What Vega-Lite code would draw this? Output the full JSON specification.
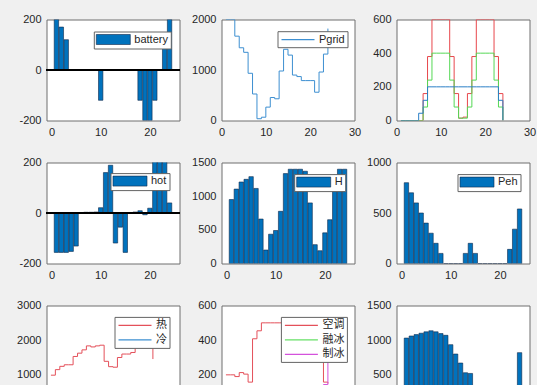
{
"$schema":"https://vega.github.io/schema/vega-lite/v6.json",
"background":"#f0f0f0",
"padding":{"left":15.5,"top":12.5,"right":0,"bottom":0},
"columns":3,
"spacing":{"row":42,"column":42},
"bounds":"flush",
"resolve":{"scale":{"color":"independent"},"legend":{"color":"independent"}},
"datasets":{
"battery":[{"hour":1,"value":200,"series":"battery"},{"hour":2,"value":170,"series":"battery"},{"hour":3,"value":120,"series":"battery"},{"hour":4,"value":0,"series":"battery"},{"hour":5,"value":0,"series":"battery"},{"hour":6,"value":0,"series":"battery"},{"hour":7,"value":0,"series":"battery"},{"hour":8,"value":0,"series":"battery"},{"hour":9,"value":0,"series":"battery"},{"hour":10,"value":-120,"series":"battery"},{"hour":11,"value":0,"series":"battery"},{"hour":12,"value":0,"series":"battery"},{"hour":13,"value":0,"series":"battery"},{"hour":14,"value":0,"series":"battery"},{"hour":15,"value":0,"series":"battery"},{"hour":16,"value":0,"series":"battery"},{"hour":17,"value":0,"series":"battery"},{"hour":18,"value":-120,"series":"battery"},{"hour":19,"value":-200,"series":"battery"},{"hour":20,"value":-200,"series":"battery"},{"hour":21,"value":-120,"series":"battery"},{"hour":22,"value":0,"series":"battery"},{"hour":23,"value":120,"series":"battery"},{"hour":24,"value":200,"series":"battery"}],
"pgrid":[{"hour":1,"value":2000,"series":"Pgrid"},{"hour":2,"value":2000,"series":"Pgrid"},{"hour":3,"value":1670,"series":"Pgrid"},{"hour":4,"value":1440,"series":"Pgrid"},{"hour":5,"value":1350,"series":"Pgrid"},{"hour":6,"value":935,"series":"Pgrid"},{"hour":7,"value":525,"series":"Pgrid"},{"hour":8,"value":35,"series":"Pgrid"},{"hour":9,"value":65,"series":"Pgrid"},{"hour":10,"value":265,"series":"Pgrid"},{"hour":11,"value":455,"series":"Pgrid"},{"hour":12,"value":430,"series":"Pgrid"},{"hour":13,"value":980,"series":"Pgrid"},{"hour":14,"value":1410,"series":"Pgrid"},{"hour":15,"value":1295,"series":"Pgrid"},{"hour":16,"value":900,"series":"Pgrid"},{"hour":17,"value":870,"series":"Pgrid"},{"hour":18,"value":790,"series":"Pgrid"},{"hour":19,"value":790,"series":"Pgrid"},{"hour":20,"value":790,"series":"Pgrid"},{"hour":21,"value":560,"series":"Pgrid"},{"hour":22,"value":960,"series":"Pgrid"},{"hour":23,"value":1315,"series":"Pgrid"},{"hour":24,"value":1820,"series":"Pgrid"}],
"three":[
{"hour":1,"value":0,"series":"P1"},{"hour":2,"value":0,"series":"P1"},{"hour":3,"value":0,"series":"P1"},{"hour":4,"value":0,"series":"P1"},{"hour":5,"value":0,"series":"P1"},{"hour":6,"value":160,"series":"P1"},{"hour":7,"value":380,"series":"P1"},{"hour":8,"value":600,"series":"P1"},{"hour":9,"value":600,"series":"P1"},{"hour":10,"value":600,"series":"P1"},{"hour":11,"value":600,"series":"P1"},{"hour":12,"value":380,"series":"P1"},{"hour":13,"value":160,"series":"P1"},{"hour":14,"value":14,"series":"P1"},{"hour":15,"value":20,"series":"P1"},{"hour":16,"value":160,"series":"P1"},{"hour":17,"value":380,"series":"P1"},{"hour":18,"value":600,"series":"P1"},{"hour":19,"value":600,"series":"P1"},{"hour":20,"value":600,"series":"P1"},{"hour":21,"value":600,"series":"P1"},{"hour":22,"value":380,"series":"P1"},{"hour":23,"value":160,"series":"P1"},{"hour":24,"value":0,"series":"P1"},
{"hour":1,"value":0,"series":"P2"},{"hour":2,"value":0,"series":"P2"},{"hour":3,"value":0,"series":"P2"},{"hour":4,"value":0,"series":"P2"},{"hour":5,"value":0,"series":"P2"},{"hour":6,"value":80,"series":"P2"},{"hour":7,"value":240,"series":"P2"},{"hour":8,"value":400,"series":"P2"},{"hour":9,"value":400,"series":"P2"},{"hour":10,"value":400,"series":"P2"},{"hour":11,"value":400,"series":"P2"},{"hour":12,"value":240,"series":"P2"},{"hour":13,"value":80,"series":"P2"},{"hour":14,"value":14,"series":"P2"},{"hour":15,"value":14,"series":"P2"},{"hour":16,"value":80,"series":"P2"},{"hour":17,"value":240,"series":"P2"},{"hour":18,"value":400,"series":"P2"},{"hour":19,"value":400,"series":"P2"},{"hour":20,"value":400,"series":"P2"},{"hour":21,"value":400,"series":"P2"},{"hour":22,"value":240,"series":"P2"},{"hour":23,"value":80,"series":"P2"},{"hour":24,"value":0,"series":"P2"},
{"hour":1,"value":0,"series":"P3"},{"hour":2,"value":0,"series":"P3"},{"hour":3,"value":0,"series":"P3"},{"hour":4,"value":0,"series":"P3"},{"hour":5,"value":43,"series":"P3"},{"hour":6,"value":120,"series":"P3"},{"hour":7,"value":200,"series":"P3"},{"hour":8,"value":200,"series":"P3"},{"hour":9,"value":200,"series":"P3"},{"hour":10,"value":200,"series":"P3"},{"hour":11,"value":200,"series":"P3"},{"hour":12,"value":200,"series":"P3"},{"hour":13,"value":200,"series":"P3"},{"hour":14,"value":200,"series":"P3"},{"hour":15,"value":200,"series":"P3"},{"hour":16,"value":200,"series":"P3"},{"hour":17,"value":200,"series":"P3"},{"hour":18,"value":200,"series":"P3"},{"hour":19,"value":200,"series":"P3"},{"hour":20,"value":200,"series":"P3"},{"hour":21,"value":200,"series":"P3"},{"hour":22,"value":200,"series":"P3"},{"hour":23,"value":120,"series":"P3"},{"hour":24,"value":0,"series":"P3"}],
"hot":[{"hour":1,"value":-156,"series":"hot"},{"hour":2,"value":-156,"series":"hot"},{"hour":3,"value":-156,"series":"hot"},{"hour":4,"value":-152,"series":"hot"},{"hour":5,"value":-131,"series":"hot"},{"hour":6,"value":1,"series":"hot"},{"hour":7,"value":3,"series":"hot"},{"hour":8,"value":3,"series":"hot"},{"hour":9,"value":4,"series":"hot"},{"hour":10,"value":21,"series":"hot"},{"hour":11,"value":160,"series":"hot"},{"hour":12,"value":189,"series":"hot"},{"hour":13,"value":-119,"series":"hot"},{"hour":14,"value":-56,"series":"hot"},{"hour":15,"value":-156,"series":"hot"},{"hour":16,"value":2,"series":"hot"},{"hour":17,"value":4,"series":"hot"},{"hour":18,"value":9,"series":"hot"},{"hour":19,"value":-7,"series":"hot"},{"hour":20,"value":19,"series":"hot"},{"hour":21,"value":260,"series":"hot"},{"hour":22,"value":260,"series":"hot"},{"hour":23,"value":260,"series":"hot"},{"hour":24,"value":40,"series":"hot"}],
"h":[{"hour":1,"value":950,"series":"H"},{"hour":2,"value":1105,"series":"H"},{"hour":3,"value":1210,"series":"H"},{"hour":4,"value":1250,"series":"H"},{"hour":5,"value":1290,"series":"H"},{"hour":6,"value":1115,"series":"H"},{"hour":7,"value":660,"series":"H"},{"hour":8,"value":200,"series":"H"},{"hour":9,"value":435,"series":"H"},{"hour":10,"value":490,"series":"H"},{"hour":11,"value":775,"series":"H"},{"hour":12,"value":1335,"series":"H"},{"hour":13,"value":1400,"series":"H"},{"hour":14,"value":1400,"series":"H"},{"hour":15,"value":1400,"series":"H"},{"hour":16,"value":1370,"series":"H"},{"hour":17,"value":900,"series":"H"},{"hour":18,"value":280,"series":"H"},{"hour":19,"value":190,"series":"H"},{"hour":20,"value":455,"series":"H"},{"hour":21,"value":650,"series":"H"},{"hour":22,"value":1080,"series":"H"},{"hour":23,"value":1400,"series":"H"},{"hour":24,"value":1400,"series":"H"}],
"peh":[{"hour":1,"value":800,"series":"Peh"},{"hour":2,"value":700,"series":"Peh"},{"hour":3,"value":600,"series":"Peh"},{"hour":4,"value":500,"series":"Peh"},{"hour":5,"value":400,"series":"Peh"},{"hour":6,"value":300,"series":"Peh"},{"hour":7,"value":200,"series":"Peh"},{"hour":8,"value":100,"series":"Peh"},{"hour":9,"value":0,"series":"Peh"},{"hour":10,"value":0,"series":"Peh"},{"hour":11,"value":0,"series":"Peh"},{"hour":12,"value":0,"series":"Peh"},{"hour":13,"value":100,"series":"Peh"},{"hour":14,"value":200,"series":"Peh"},{"hour":15,"value":100,"series":"Peh"},{"hour":16,"value":0,"series":"Peh"},{"hour":17,"value":0,"series":"Peh"},{"hour":18,"value":0,"series":"Peh"},{"hour":19,"value":0,"series":"Peh"},{"hour":20,"value":0,"series":"Peh"},{"hour":21,"value":0,"series":"Peh"},{"hour":22,"value":140,"series":"Peh"},{"hour":23,"value":340,"series":"Peh"},{"hour":24,"value":540,"series":"Peh"}],
"hc":[
{"hour":1,"value":990,"series":"热"},{"hour":2,"value":1150,"series":"热"},{"hour":3,"value":1245,"series":"热"},{"hour":4,"value":1290,"series":"热"},{"hour":5,"value":1290,"series":"热"},{"hour":6,"value":1530,"series":"热"},{"hour":7,"value":1625,"series":"热"},{"hour":8,"value":1720,"series":"热"},{"hour":9,"value":1835,"series":"热"},{"hour":10,"value":1805,"series":"热"},{"hour":11,"value":1835,"series":"热"},{"hour":12,"value":1855,"series":"热"},{"hour":13,"value":1390,"series":"热"},{"hour":14,"value":1235,"series":"热"},{"hour":15,"value":1220,"series":"热"},{"hour":16,"value":1500,"series":"热"},{"hour":17,"value":1600,"series":"热"},{"hour":18,"value":1600,"series":"热"},{"hour":19,"value":1645,"series":"热"},{"hour":20,"value":1950,"series":"热"},{"hour":21,"value":2100,"series":"热"},{"hour":22,"value":2200,"series":"热"},{"hour":23,"value":2250,"series":"热"},{"hour":24,"value":1455,"series":"热"},
{"hour":1,"value":500,"series":"冷"},{"hour":2,"value":480,"series":"冷"},{"hour":3,"value":470,"series":"冷"},{"hour":4,"value":460,"series":"冷"},{"hour":5,"value":450,"series":"冷"},{"hour":6,"value":440,"series":"冷"},{"hour":7,"value":430,"series":"冷"},{"hour":8,"value":420,"series":"冷"},{"hour":9,"value":410,"series":"冷"},{"hour":10,"value":400,"series":"冷"},{"hour":11,"value":390,"series":"冷"},{"hour":12,"value":380,"series":"冷"},{"hour":13,"value":370,"series":"冷"},{"hour":14,"value":360,"series":"冷"},{"hour":15,"value":350,"series":"冷"},{"hour":16,"value":340,"series":"冷"},{"hour":17,"value":350,"series":"冷"},{"hour":18,"value":360,"series":"冷"},{"hour":19,"value":380,"series":"冷"},{"hour":20,"value":400,"series":"冷"},{"hour":21,"value":420,"series":"冷"},{"hour":22,"value":440,"series":"冷"},{"hour":23,"value":460,"series":"冷"},{"hour":24,"value":480,"series":"冷"}],
"ice":[
{"hour":1,"value":200,"series":"空调"},{"hour":2,"value":200,"series":"空调"},{"hour":3,"value":190,"series":"空调"},{"hour":4,"value":213,"series":"空调"},{"hour":5,"value":204,"series":"空调"},{"hour":6,"value":158,"series":"空调"},{"hour":7,"value":408,"series":"空调"},{"hour":8,"value":454,"series":"空调"},{"hour":9,"value":500,"series":"空调"},{"hour":10,"value":500,"series":"空调"},{"hour":11,"value":500,"series":"空调"},{"hour":12,"value":500,"series":"空调"},{"hour":13,"value":500,"series":"空调"},{"hour":14,"value":500,"series":"空调"},{"hour":15,"value":500,"series":"空调"},{"hour":16,"value":500,"series":"空调"},{"hour":17,"value":500,"series":"空调"},{"hour":18,"value":500,"series":"空调"},{"hour":19,"value":500,"series":"空调"},{"hour":20,"value":500,"series":"空调"},{"hour":21,"value":500,"series":"空调"},{"hour":22,"value":500,"series":"空调"},{"hour":23,"value":158,"series":"空调"},{"hour":24,"value":150,"series":"空调"},
{"hour":1,"value":0,"series":"融冰"},{"hour":2,"value":0,"series":"融冰"},{"hour":3,"value":0,"series":"融冰"},{"hour":4,"value":0,"series":"融冰"},{"hour":5,"value":0,"series":"融冰"},{"hour":6,"value":0,"series":"融冰"},{"hour":7,"value":0,"series":"融冰"},{"hour":8,"value":0,"series":"融冰"},{"hour":9,"value":0,"series":"融冰"},{"hour":10,"value":138,"series":"融冰"},{"hour":11,"value":138,"series":"融冰"},{"hour":12,"value":138,"series":"融冰"},{"hour":13,"value":138,"series":"融冰"},{"hour":14,"value":0,"series":"融冰"},{"hour":15,"value":0,"series":"融冰"},{"hour":16,"value":0,"series":"融冰"},{"hour":17,"value":0,"series":"融冰"},{"hour":18,"value":0,"series":"融冰"},{"hour":19,"value":0,"series":"融冰"},{"hour":20,"value":0,"series":"融冰"},{"hour":21,"value":0,"series":"融冰"},{"hour":22,"value":0,"series":"融冰"},{"hour":23,"value":0,"series":"融冰"},{"hour":24,"value":0,"series":"融冰"},
{"hour":1,"value":0,"series":"制冰"},{"hour":2,"value":0,"series":"制冰"},{"hour":3,"value":0,"series":"制冰"},{"hour":4,"value":0,"series":"制冰"},{"hour":5,"value":0,"series":"制冰"},{"hour":6,"value":0,"series":"制冰"},{"hour":7,"value":0,"series":"制冰"},{"hour":8,"value":0,"series":"制冰"},{"hour":9,"value":0,"series":"制冰"},{"hour":10,"value":0,"series":"制冰"},{"hour":11,"value":0,"series":"制冰"},{"hour":12,"value":0,"series":"制冰"},{"hour":13,"value":0,"series":"制冰"},{"hour":14,"value":0,"series":"制冰"},{"hour":15,"value":0,"series":"制冰"},{"hour":16,"value":0,"series":"制冰"},{"hour":17,"value":0,"series":"制冰"},{"hour":18,"value":0,"series":"制冰"},{"hour":19,"value":0,"series":"制冰"},{"hour":20,"value":0,"series":"制冰"},{"hour":21,"value":0,"series":"制冰"},{"hour":22,"value":0,"series":"制冰"},{"hour":23,"value":144,"series":"制冰"},{"hour":24,"value":320,"series":"制冰"}],
"p9":[{"hour":1,"value":1030},{"hour":2,"value":1060},{"hour":3,"value":1080},{"hour":4,"value":1100},{"hour":5,"value":1120},{"hour":6,"value":1135},{"hour":7,"value":1120},{"hour":8,"value":1095},{"hour":9,"value":1070},{"hour":10,"value":935},{"hour":11,"value":800},{"hour":12,"value":670},{"hour":13,"value":530},{"hour":14,"value":520},{"hour":15,"value":330},{"hour":16,"value":300},{"hour":17,"value":280},{"hour":18,"value":260},{"hour":19,"value":250},{"hour":20,"value":260},{"hour":21,"value":300},{"hour":22,"value":330},{"hour":23,"value":330},{"hour":24,"value":820}]
},
"concat":[
{"width":133,"height":101,"data":{"name":"battery"},
 "layer":[
  {"mark":{"type":"bar","size":4.4,"clip":true,"stroke":"#10284a","strokeWidth":0.6},
   "encoding":{
    "x":{"field":"hour","type":"quantitative","title":null,"scale":{"domain":[0,25],"nice":false},"axis":{"values":[0,10,20]}},
    "y":{"field":"value","type":"quantitative","title":null,"scale":{"domain":[-200,200],"nice":false},"axis":{"values":[-200,0,200]}},
    "color":{"field":"series","type":"nominal","scale":{"range":["#0072BD"]},"legend":{"title":null,"orient":"none","legendX":47.3,"legendY":12,"symbolType":"M-3.4,-1H3.4V1H-3.4Z","symbolStrokeColor":"#10284a","symbolStrokeWidth":0.6,"symbolOffset":11.5,"labelOffset":15.5}}}},
  {"mark":{"type":"rule","color":"#000000","strokeWidth":0.8},"encoding":{"y":{"datum":0}}}
 ]},
{"width":133,"height":101,"data":{"name":"pgrid"},
 "mark":{"type":"line","interpolate":"step-after","clip":true,"strokeWidth":1},
 "encoding":{
  "x":{"field":"hour","type":"quantitative","title":null,"scale":{"domain":[0,30],"nice":false},"axis":{"values":[0,10,20,30]}},
  "y":{"field":"value","type":"quantitative","title":null,"scale":{"domain":[0,2000],"nice":false},"axis":{"values":[0,1000,2000]}},
  "color":{"field":"series","type":"nominal","scale":{"range":["#3d8fd1"]},"legend":{"title":null,"orient":"none","legendX":56,"legendY":11.7,"symbolType":"M-3.3,0H3.3","symbolStrokeWidth":1.2,"symbolOffset":12,"labelOffset":15}}}},
{"width":133,"height":101,"data":{"name":"three"},
 "mark":{"type":"line","interpolate":"step-after","clip":true,"strokeWidth":1},
 "encoding":{
  "x":{"field":"hour","type":"quantitative","title":null,"scale":{"domain":[0,30],"nice":false},"axis":{"values":[0,10,20,30]}},
  "y":{"field":"value","type":"quantitative","title":null,"scale":{"domain":[0,600],"nice":false},"axis":{"values":[0,200,400,600]}},
  "color":{"field":"series","type":"nominal","scale":{"domain":["P1","P2","P3"],"range":["#e8474c","#55d855","#2b7fc6"]},"legend":null}}},
{"width":133,"height":101,"data":{"name":"hot"},
 "layer":[
  {"mark":{"type":"bar","size":4.4,"clip":true,"stroke":"#10284a","strokeWidth":0.6},
   "encoding":{
    "x":{"field":"hour","type":"quantitative","title":null,"scale":{"domain":[0,25],"nice":false},"axis":{"values":[0,10,20]}},
    "y":{"field":"value","type":"quantitative","title":null,"scale":{"domain":[-200,200],"nice":false},"axis":{"values":[-200,0,200]}},
    "color":{"field":"series","type":"nominal","scale":{"range":["#0072BD"]},"legend":{"title":null,"orient":"none","legendX":64,"legendY":10.6,"symbolType":"M-3.4,-1H3.4V1H-3.4Z","symbolStrokeColor":"#10284a","symbolStrokeWidth":0.6,"symbolOffset":11.5,"labelOffset":15.5}}}},
  {"mark":{"type":"rule","color":"#000000","strokeWidth":0.8},"encoding":{"y":{"datum":0}}}
 ]},
{"width":133,"height":101,"data":{"name":"h"},
 "mark":{"type":"bar","size":4.4,"clip":true,"stroke":"#10284a","strokeWidth":0.6},
 "encoding":{
  "x":{"field":"hour","type":"quantitative","title":null,"scale":{"domain":[0,25],"nice":false},"axis":{"values":[0,10,20]}},
  "y":{"field":"value","type":"quantitative","title":null,"scale":{"domain":[0,1500],"nice":false},"axis":{"values":[0,500,1000,1500]}},
  "color":{"field":"series","type":"nominal","scale":{"range":["#0072BD"]},"legend":{"title":null,"orient":"none","legendX":72.7,"legendY":11.6,"symbolType":"M-3.4,-1H3.4V1H-3.4Z","symbolStrokeColor":"#10284a","symbolStrokeWidth":0.6,"symbolOffset":11.5,"labelOffset":15.5}}}},
{"width":133,"height":101,"data":{"name":"peh"},
 "mark":{"type":"bar","size":4.4,"clip":true,"stroke":"#10284a","strokeWidth":0.6},
 "encoding":{
  "x":{"field":"hour","type":"quantitative","title":null,"scale":{"domain":[0,25],"nice":false},"axis":{"values":[0,10,20]}},
  "y":{"field":"value","type":"quantitative","title":null,"scale":{"domain":[0,1000],"nice":false},"axis":{"values":[0,500,1000]}},
  "color":{"field":"series","type":"nominal","scale":{"range":["#0072BD"]},"legend":{"title":null,"orient":"none","legendX":61,"legendY":11.6,"symbolType":"M-3.4,-1H3.4V1H-3.4Z","symbolStrokeColor":"#10284a","symbolStrokeWidth":0.6,"symbolOffset":11.5,"labelOffset":15.5}}}},
{"width":133,"height":104,"data":{"name":"hc"},
 "mark":{"type":"line","interpolate":"step-after","clip":true,"strokeWidth":1},
 "encoding":{
  "x":{"field":"hour","type":"quantitative","title":null,"scale":{"domain":[0,30],"nice":false},"axis":{"values":[0,10,20,30]}},
  "y":{"field":"value","type":"quantitative","title":null,"scale":{"domain":[0,3000],"nice":false},"axis":{"values":[0,1000,2000,3000]}},
  "color":{"field":"series","type":"nominal","scale":{"domain":["热","冷"],"range":["#e4505a","#3d8fd1"]},"legend":{"title":null,"orient":"none","legendX":68,"legendY":11.4,"symbolType":"M-3.3,0H3.3","symbolStrokeWidth":1.2,"symbolOffset":12,"labelOffset":15,"labelFont":"Noto Sans CJK SC"}}}},
{"width":133,"height":104,"data":{"name":"ice"},
 "mark":{"type":"line","interpolate":"step-after","clip":true,"strokeWidth":1},
 "encoding":{
  "x":{"field":"hour","type":"quantitative","title":null,"scale":{"domain":[0,30],"nice":false},"axis":{"values":[0,10,20,30]}},
  "y":{"field":"value","type":"quantitative","title":null,"scale":{"domain":[0,600],"nice":false},"axis":{"values":[0,200,400,600]}},
  "color":{"field":"series","type":"nominal","scale":{"domain":["空调","融冰","制冰"],"range":["#e4505a","#66e066","#d452dc"]},"legend":{"title":null,"orient":"none","legendX":59.4,"legendY":11.4,"symbolType":"M-3.3,0H3.3","symbolStrokeWidth":1.2,"symbolOffset":12,"labelOffset":15,"labelFont":"Noto Sans CJK SC"}}}},
{"width":133,"height":104,"data":{"name":"p9"},
 "mark":{"type":"bar","size":4.4,"clip":true,"stroke":"#10284a","strokeWidth":0.6,"color":"#0072BD"},
 "encoding":{
  "x":{"field":"hour","type":"quantitative","title":null,"scale":{"domain":[0,25],"nice":false},"axis":{"values":[0,10,20]}},
  "y":{"field":"value","type":"quantitative","title":null,"scale":{"domain":[0,1500],"nice":false},"axis":{"values":[0,500,1000,1500]}}}}
],
"config":{
 "view":{"stroke":"#6e6e6e","strokeWidth":1,"fill":"white"},
 "axis":{"grid":false,"domain":false,"ticks":false,"labelFont":"Liberation Sans","labelFontSize":11,"labelColor":"#262626","labelExpr":"'' + datum.value","labelOverlap":false,"labelFlush":false},
 "axisX":{"labelPadding":6},
 "axisY":{"labelPadding":5.5},
 "legend":{"fillColor":"white","strokeColor":"#646464","padding":2.5,"rowPadding":3.5,"symbolSize":100,"labelFont":"Liberation Sans","labelFontSize":11,"labelColor":"#262626","labelLimit":200}
}
}
